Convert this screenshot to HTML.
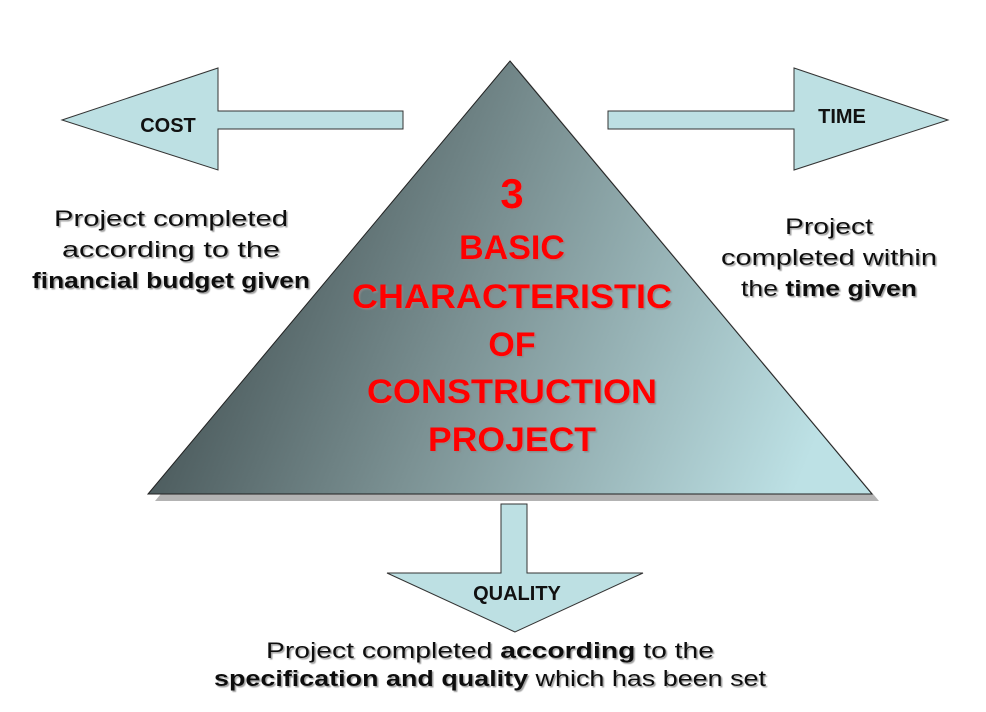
<!DOCTYPE html>
<html><head><style>
body{margin:0;background:#fff;}
svg{display:block}
.t{font-family:"Liberation Sans",sans-serif;fill:#111;}
</style></head><body>
<svg width="986" height="712" viewBox="0 0 986 712">
<defs>
<linearGradient id="g" gradientUnits="userSpaceOnUse" x1="230" y1="250" x2="800" y2="480">
<stop offset="0" stop-color="#4b5a5c"/>
<stop offset="0.4" stop-color="#7b9193"/>
<stop offset="1" stop-color="#bde1e5"/>
</linearGradient>
<filter id="s" x="-5%" y="-5%" width="110%" height="110%"><feDropShadow dx="1.5" dy="1.5" stdDeviation="0.6" flood-color="#888" flood-opacity="0.8"/></filter>
</defs>
<polygon points="517,68 879,501 155,501" fill="#b3b3b3"/>
<polygon points="510,61 872,494 148,494" fill="url(#g)" stroke="#222" stroke-width="1"/>
<polygon points="62,120 218,68 218,111 403,111 403,129 218,129 218,170" fill="#bde0e3" stroke="#333" stroke-width="1"/>
<polygon points="948,120 794,68 794,111 608,111 608,129 794,129 794,170" fill="#bde0e3" stroke="#333" stroke-width="1"/>
<polygon points="515,632 387,573 501,573 501,504 527,504 527,573 643,573" fill="#bde0e3" stroke="#333" stroke-width="1"/>
<g class="t" font-weight="bold" font-size="20" text-anchor="middle">
<text x="168" y="132">COST</text>
<text x="842" y="123">TIME</text>
<text x="517" y="600">QUALITY</text>
</g>
<g filter="url(#s)" font-family="Liberation Sans,sans-serif" font-weight="bold" fill="#f00" text-anchor="middle">
<text x="512" y="208" font-size="42">3</text>
<text x="512" y="259" font-size="34">BASIC</text>
<text x="512" y="308" font-size="34" textLength="320" lengthAdjust="spacingAndGlyphs">CHARACTERISTIC</text>
<text x="512" y="356" font-size="34">OF</text>
<text x="512" y="403" font-size="34" textLength="290" lengthAdjust="spacingAndGlyphs">CONSTRUCTION</text>
<text x="512" y="451" font-size="34" textLength="168" lengthAdjust="spacingAndGlyphs">PROJECT</text>
</g>
<g class="t" font-size="22" text-anchor="middle" filter="url(#s)">
<text x="171" y="226" textLength="234" lengthAdjust="spacingAndGlyphs">Project completed</text>
<text x="171" y="257" textLength="218" lengthAdjust="spacingAndGlyphs">according to the</text>
<text x="171" y="288" font-weight="bold" textLength="278" lengthAdjust="spacingAndGlyphs">financial budget given</text>
<text x="829" y="234" textLength="88" lengthAdjust="spacingAndGlyphs">Project</text>
<text x="829" y="265" textLength="216" lengthAdjust="spacingAndGlyphs">completed within</text>
<text x="829" y="296" textLength="176" lengthAdjust="spacingAndGlyphs">the <tspan font-weight="bold">time given</tspan></text>
<text x="490" y="658" textLength="448" lengthAdjust="spacingAndGlyphs">Project completed <tspan font-weight="bold">according</tspan> to the</text>
<text x="490" y="686" textLength="552" lengthAdjust="spacingAndGlyphs"><tspan font-weight="bold">specification and quality</tspan> which has been set</text>
</g>
</svg>
</body></html>
